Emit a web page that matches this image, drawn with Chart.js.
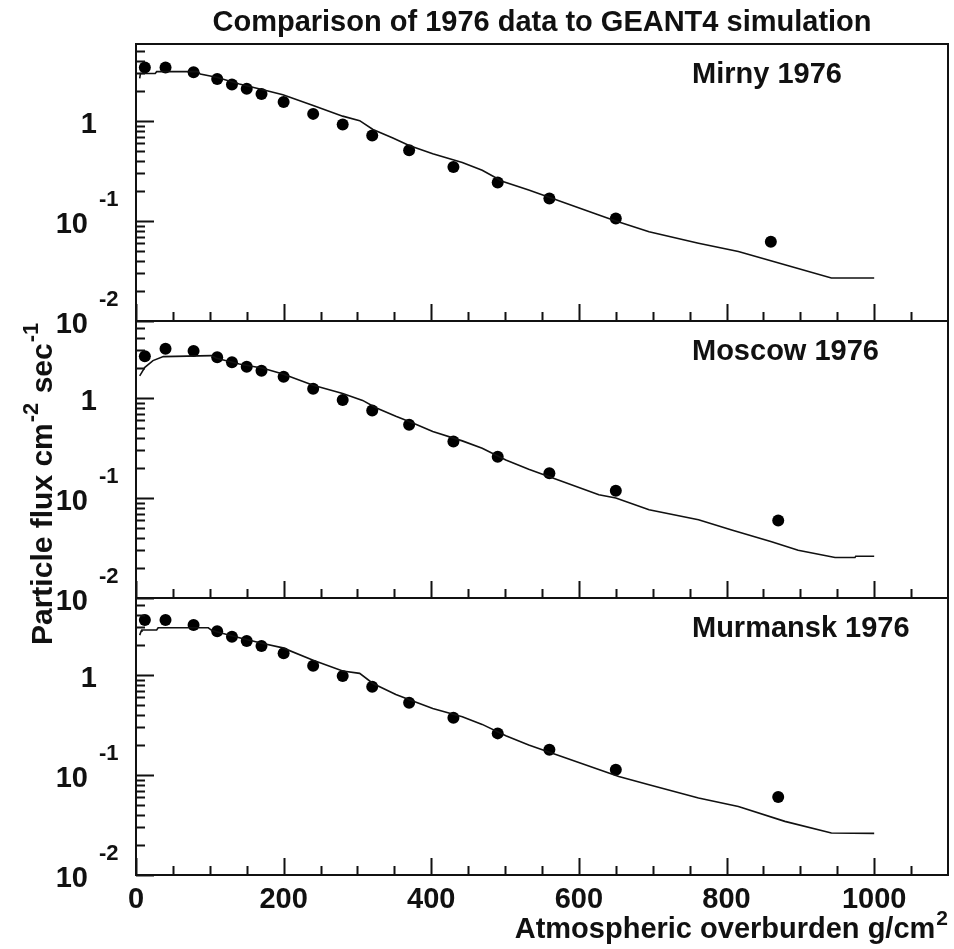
<!DOCTYPE html>
<html>
<head>
<meta charset="utf-8">
<script src="https://cdn.jsdelivr.net/npm/chart.js@4.4.1/dist/chart.umd.min.js"></script>
<style>
html,body{margin:0;padding:0;background:#fff;}
#wrap{position:relative;width:954px;height:949px;}
canvas{display:block;}
</style>
</head>
<body>
<div id="wrap"><canvas id="c" width="954" height="949" style="width:954px;height:949px"></canvas></div>
<script>
// ---------------- data ----------------
const chartTitle = 'Comparison of 1976 data to GEANT4 simulation';
const panelNames = ['Mirny 1976', 'Moscow 1976', 'Murmansk 1976'];
const xAxisTitle = 'Atmospheric overburden g/cm';
const xAxisTitleSup = '2';
const yAxisTitleParts = ['Particle flux cm', '-2', ' sec', '-1'];
const xTickValues = [0, 200, 400, 600, 800, 1000];
const xMinorStep = 50;
const yTickValues = [1, 0.1, 0.01];
const yTickBase = ['1', '10', '10'];
const yTickExponent = ['', '-1', '-2'];
const xRange = [0, 1100];
const yRange = [0.01, 5.9];

// measured points
const mirnyDepth = [12, 40, 78, 110, 130, 150, 170, 200, 240, 280, 320, 370, 430, 490, 560, 650, 860];
const mirnyFlux  = [3.43, 3.43, 3.08, 2.64, 2.32, 2.10, 1.87, 1.55, 1.18, 0.925, 0.719, 0.51, 0.348, 0.243, 0.168, 0.106, 0.062];
const moscowDepth = [12, 40, 78, 110, 130, 150, 170, 200, 240, 280, 320, 370, 430, 490, 560, 650, 870];
const moscowFlux  = [2.62, 3.11, 2.95, 2.56, 2.28, 2.06, 1.88, 1.63, 1.24, 0.955, 0.751, 0.542, 0.367, 0.259, 0.177, 0.118, 0.0596];
const murmanskDepth = [12, 40, 78, 110, 130, 150, 170, 200, 240, 280, 320, 370, 430, 490, 560, 650, 870];
const murmanskFlux  = [3.55, 3.55, 3.16, 2.75, 2.42, 2.19, 1.95, 1.65, 1.24, 0.977, 0.764, 0.528, 0.374, 0.261, 0.179, 0.113, 0.0603];

// GEANT4 simulation curves
const mirnySimDepth = [5, 6, 26, 28, 84, 87, 109, 140, 172, 199, 240, 280, 303, 321, 348, 370, 402, 442, 469, 496, 532, 627, 650, 695, 762, 816, 879, 942, 1000];
const mirnySimFlux  = [2.68, 2.99, 2.99, 3.12, 3.12, 2.96, 2.74, 2.35, 2.06, 1.83, 1.43, 1.12, 1.01, 0.824, 0.678, 0.571, 0.472, 0.385, 0.322, 0.25, 0.204, 0.115, 0.1, 0.078, 0.060, 0.0496, 0.0365, 0.0269, 0.0269];
const moscowSimDepth = [5, 12, 23, 37, 102, 109, 140, 172, 199, 240, 280, 307, 325, 352, 375, 402, 442, 469, 501, 532, 627, 650, 695, 762, 807, 861, 897, 947, 974, 975, 1000];
const moscowSimFlux  = [1.67, 2.03, 2.37, 2.6, 2.66, 2.5, 2.19, 1.99, 1.74, 1.34, 1.11, 0.948, 0.8, 0.657, 0.563, 0.464, 0.373, 0.315, 0.24, 0.194, 0.108, 0.1, 0.0765, 0.0606, 0.048, 0.0366, 0.030, 0.0254, 0.0254, 0.0262, 0.0262];
const murmanskSimDepth = [5, 7, 8, 28, 30, 98, 102, 109, 140, 172, 199, 240, 280, 303, 321, 352, 375, 402, 442, 469, 501, 532, 654, 695, 762, 816, 879, 942, 1000];
const murmanskSimFlux  = [2.51, 2.75, 2.82, 2.82, 2.97, 2.97, 2.82, 2.71, 2.36, 2.07, 1.87, 1.41, 1.1, 1.04, 0.824, 0.64, 0.55, 0.463, 0.383, 0.321, 0.247, 0.2, 0.0968, 0.08, 0.0589, 0.0485, 0.0344, 0.0263, 0.0261];

// ---------------- chart ----------------
const FONT = '"Liberation Sans", Arial, Helvetica, sans-serif';
const INK = '#111';
const panelScaleIds = ['yMirny', 'yMoscow', 'yMurmansk'];

function pts(xs, ys) { return xs.map((x, i) => ({x: x, y: ys[i]})); }

const panels = [
  {id: 'yMirny', d: mirnyDepth, f: mirnyFlux, sd: mirnySimDepth, sf: mirnySimFlux},
  {id: 'yMoscow', d: moscowDepth, f: moscowFlux, sd: moscowSimDepth, sf: moscowSimFlux},
  {id: 'yMurmansk', d: murmanskDepth, f: murmanskFlux, sd: murmanskSimDepth, sf: murmanskSimFlux}
];

const datasets = [];
panels.forEach((p, i) => {
  datasets.push({
    label: panelNames[i] + ' GEANT4', data: pts(p.sd, p.sf), yAxisID: p.id,
    showLine: true, borderColor: INK, borderWidth: 1.6, pointRadius: 0, tension: 0, fill: false
  });
  datasets.push({
    label: panelNames[i] + ' data', data: pts(p.d, p.f), yAxisID: p.id,
    showLine: false, pointRadius: 6, pointStyle: 'circle',
    backgroundColor: '#000', borderColor: '#000', borderWidth: 0
  });
});

function yScale() {
  return {type: 'logarithmic', position: 'left', stack: 'panels', stackWeight: 1,
          min: yRange[0], max: yRange[1], display: false};
}

const decor = {
  id: 'rootDecor',
  afterDatasetsDraw(chart) {
    const ctx = chart.ctx, ca = chart.chartArea, xs = chart.scales.x;
    ctx.save();
    ctx.strokeStyle = INK; ctx.fillStyle = INK; ctx.lineCap = 'butt';
    panelScaleIds.forEach((id, p) => {
      const ys = chart.scales[id];
      const top = ys.top, bot = ys.bottom;
      ctx.lineWidth = 2;
      // x ticks (inward, from bottom edge)
      ctx.beginPath();
      for (let v = xRange[0]; v < xRange[1]; v += xMinorStep) {
        const px = Math.round(xs.getPixelForValue(v)) + 0.5;
        const major = xTickValues.includes(v);
        ctx.moveTo(px, bot); ctx.lineTo(px, bot - (major ? 17 : 9));
      }
      ctx.stroke();
      // y ticks (inward, from left edge)
      ctx.beginPath();
      for (let e = -2; e <= 0; e++) {
        for (let m = 1; m <= 9; m++) {
          const v = m * Math.pow(10, e);
          if (v < yRange[0] - 1e-9 || v > yRange[1]) continue;
          const py = Math.round(ys.getPixelForValue(v)) + 0.5;
          ctx.moveTo(ca.left, py); ctx.lineTo(ca.left + (m === 1 ? 18 : 9), py);
        }
      }
      ctx.stroke();
      // frame
      ctx.strokeRect(ca.left, top, ca.right - ca.left, bot - top);
      // y tick labels
      yTickValues.forEach((v, k) => {
        const py = ys.getPixelForValue(v);
        ctx.textBaseline = 'alphabetic';
        if (yTickExponent[k] === '') {
          ctx.font = 'bold 29px ' + FONT; ctx.textAlign = 'right';
          ctx.fillText(yTickBase[k], 97, py + 12);
        } else {
          ctx.font = 'bold 29px ' + FONT; ctx.textAlign = 'right';
          ctx.fillText(yTickBase[k], 88, py + 11.5);
          ctx.font = 'bold 22px ' + FONT; ctx.textAlign = 'left';
          ctx.fillText(yTickExponent[k], 99, py - 15.5);
        }
      });
      // panel label
      ctx.font = 'bold 29px ' + FONT; ctx.textAlign = 'left'; ctx.textBaseline = 'alphabetic';
      ctx.fillText(panelNames[p], 692, top + 38.5);
    });
    // x tick labels
    const lastId = panelScaleIds[panelScaleIds.length - 1];
    const bottom = chart.scales[lastId].bottom;
    ctx.font = 'bold 29px ' + FONT; ctx.textAlign = 'center'; ctx.textBaseline = 'alphabetic';
    xTickValues.forEach(v => {
      ctx.fillText(String(v), xs.getPixelForValue(v), bottom + 33);
    });
    // x axis title (right aligned)
    ctx.font = 'bold 21px ' + FONT;
    const supW = ctx.measureText(xAxisTitleSup).width;
    ctx.textAlign = 'right';
    ctx.fillText(xAxisTitleSup, ca.right, bottom + 50);
    ctx.font = 'bold 29px ' + FONT;
    ctx.fillText(xAxisTitle, ca.right - supW - 1, bottom + 63);
    // y axis title (rotated)
    ctx.save();
    ctx.translate(52, 645);
    ctx.rotate(-Math.PI / 2);
    ctx.textAlign = 'left';
    let cx = 0;
    yAxisTitleParts.forEach((t, k) => {
      const sup = (k % 2 === 1);
      ctx.font = 'bold ' + (sup ? 22 : 30) + 'px ' + FONT;
      ctx.fillText(t, cx, sup ? -14 : 0);
      cx += ctx.measureText(t).width + 1;
    });
    ctx.restore();
    // chart title
    ctx.font = 'bold 29px ' + FONT;
    ctx.textAlign = 'center';
    ctx.fillText(chartTitle, (ca.left + ca.right) / 2, 31);
    ctx.restore();
  }
};

new Chart(document.getElementById('c'), {
  type: 'scatter',
  data: {datasets: datasets},
  options: {
    responsive: false,
    animation: false,
    devicePixelRatio: 1,
    layout: {padding: {left: 136, right: 4, top: 44, bottom: 74}},
    plugins: {legend: {display: false}, title: {display: false}, tooltip: {enabled: false}},
    scales: {
      x: {type: 'linear', min: xRange[0], max: xRange[1], display: false},
      yMurmansk: yScale(),
      yMoscow: yScale(),
      yMirny: yScale()
    }
  },
  plugins: [decor]
});
</script>
</body>
</html>
